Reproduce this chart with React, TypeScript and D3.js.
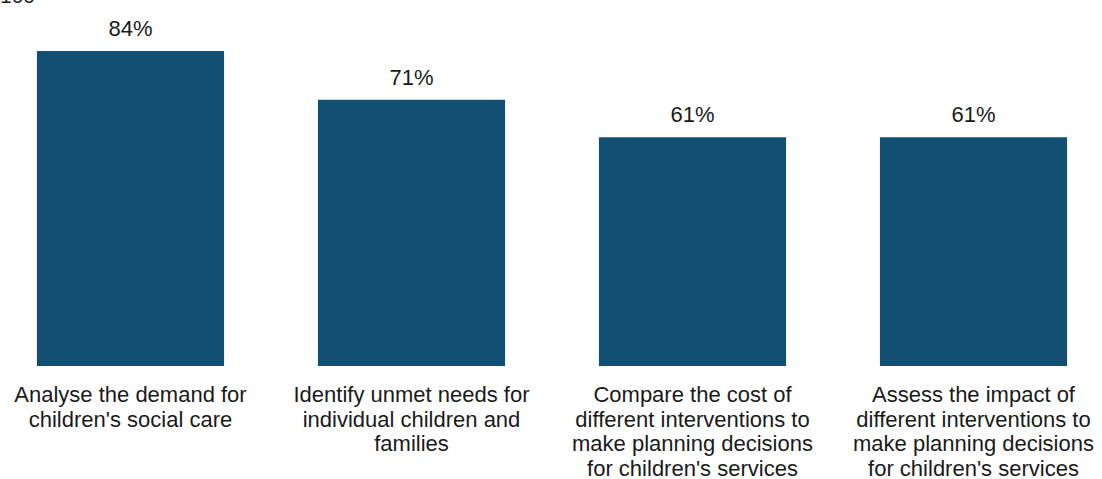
import React from "react";
import * as d3 from "d3";

const categories: string[][] = [
  ["Analyse the demand for", "children's social care"],
  ["Identify unmet needs for", "individual children and", "families"],
  ["Compare the cost of", "different interventions to", "make planning decisions", "for children's services"],
  ["Assess the impact of", "different interventions to", "make planning decisions", "for children's services"],
];
const values: number[] = [84, 71, 61, 61];
const yTickLabel = "100";

const W = 1102;
const H = 479;

export default function App() {
  const x = d3
    .scaleBand<number>()
    .domain(values.map((_, i) => i))
    .range([-10, 1114])
    .paddingInner(0.334)
    .paddingOuter(0.167);
  const y = d3.scaleLinear().domain([0, 100]).range([366, -9]);
  const font = "'Liberation Sans', Arial, sans-serif";
  return (
    <svg
      width={W}
      height={H}
      style={{ position: "absolute", left: 0, top: 0, background: "#fff" }}
      fontFamily={font}
    >
      <text x={0} y={y(100) + 12} fontSize={21} fill="#222">
        {yTickLabel}
      </text>
      {values.map((v, i) => {
        const bx = x(i)!;
        const cx = bx + x.bandwidth() / 2;
        return (
          <g key={i}>
            <rect x={bx} y={y(v)} width={x.bandwidth()} height={y(0) - y(v)} fill="#134f73" />
            <text x={cx} y={y(v) - 15} textAnchor="middle" fontSize={22} fill="#1a1a1a">
              {v}%
            </text>
            {categories[i].map((line, j) => (
              <text key={j} x={cx} y={402 + j * 24.7} textAnchor="middle" fontSize={22} fill="#1a1a1a">
                {line}
              </text>
            ))}
          </g>
        );
      })}
    </svg>
  );
}
